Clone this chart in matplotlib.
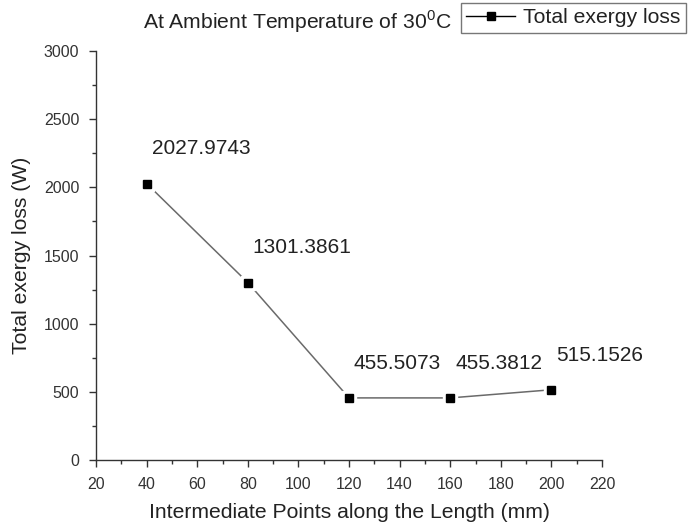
import matplotlib
matplotlib.use("Agg")
import matplotlib.pyplot as plt
from matplotlib.ticker import MultipleLocator

plt.rcParams['font.family'] = ['Liberation Sans', 'DejaVu Sans']
plt.rcParams['mathtext.fontset'] = 'custom'
plt.rcParams['mathtext.rm'] = 'Liberation Sans'

# data
points_mm = [40, 80, 120, 160, 200]
exergy_loss = [2027.9743, 1301.3861, 455.5073, 455.3812, 515.1526]
value_labels = ['2027.9743', '1301.3861', '455.5073', '455.3812', '515.1526']

text_col = '#222222'
axis_col = '#333333'

fig = plt.figure(figsize=(6.99, 5.31), dpi=100)
ax = fig.add_axes([96/699, 1 - 460/531, (602 - 96)/699, (460 - 51)/531])

# connecting line, then white squares to give the gaps round the markers
ax.plot(points_mm, exergy_loss, color='#6a6a6a', lw=1.1, zorder=2)
ax.plot(points_mm, exergy_loss, ls='none', marker='s', ms=10.5,
        mfc='white', mec='white', zorder=3)
line, = ax.plot(points_mm, exergy_loss, ls='none', marker='s', ms=6.2,
                mfc='black', mec='black', zorder=4)

for x, y, lab in zip(points_mm, exergy_loss, value_labels):
    ax.annotate(lab, (x, y), xytext=(3.6, 25), textcoords='offset points',
                ha='left', va='center', fontsize=15, color=text_col)

ax.set_xlim(20, 220)
ax.set_ylim(0, 3000)
ax.xaxis.set_major_locator(MultipleLocator(20))
ax.xaxis.set_minor_locator(MultipleLocator(10))
ax.yaxis.set_major_locator(MultipleLocator(500))
ax.yaxis.set_minor_locator(MultipleLocator(250))

for side in ['top', 'right']:
    ax.spines[side].set_visible(False)
for side in ['left', 'bottom']:
    ax.spines[side].set_color(axis_col)
    ax.spines[side].set_linewidth(1.0)

ax.tick_params(which='major', direction='out', length=5, width=1.0,
               color=axis_col, labelsize=11.5, labelcolor='#333333', pad=7)
ax.tick_params(which='minor', direction='out', length=3, width=1.0,
               color=axis_col)

ax.set_xlabel('Intermediate Points along the Length (mm)', fontsize=15.2,
              color=text_col, labelpad=8)
ax.set_ylabel('Total exergy loss (W)', fontsize=15.2, color=text_col,
              labelpad=9)

fig.text(297/699, 1 - 22/531, 'At Ambient Temperature of 30$^\\mathrm{0}$C',
         ha='center', va='center', fontsize=15.2, color=text_col)

leg = fig.legend([line], ['Total exergy loss'], loc='upper right',
                 bbox_to_anchor=(686/699, 1 - 3/531), fontsize=15.2,
                 fancybox=False, frameon=True, edgecolor='#555555',
                 borderpad=0.25, handlelength=2.3, handletextpad=0.4,
                 borderaxespad=0)
leg.get_frame().set_linewidth(1.0)
leg.legend_handles[0].set_linestyle('-')
leg.legend_handles[0].set_color('black')
leg.legend_handles[0].set_linewidth(1.0)
for t in leg.get_texts():
    t.set_color(text_col)

fig.savefig('out.png', dpi=100)
